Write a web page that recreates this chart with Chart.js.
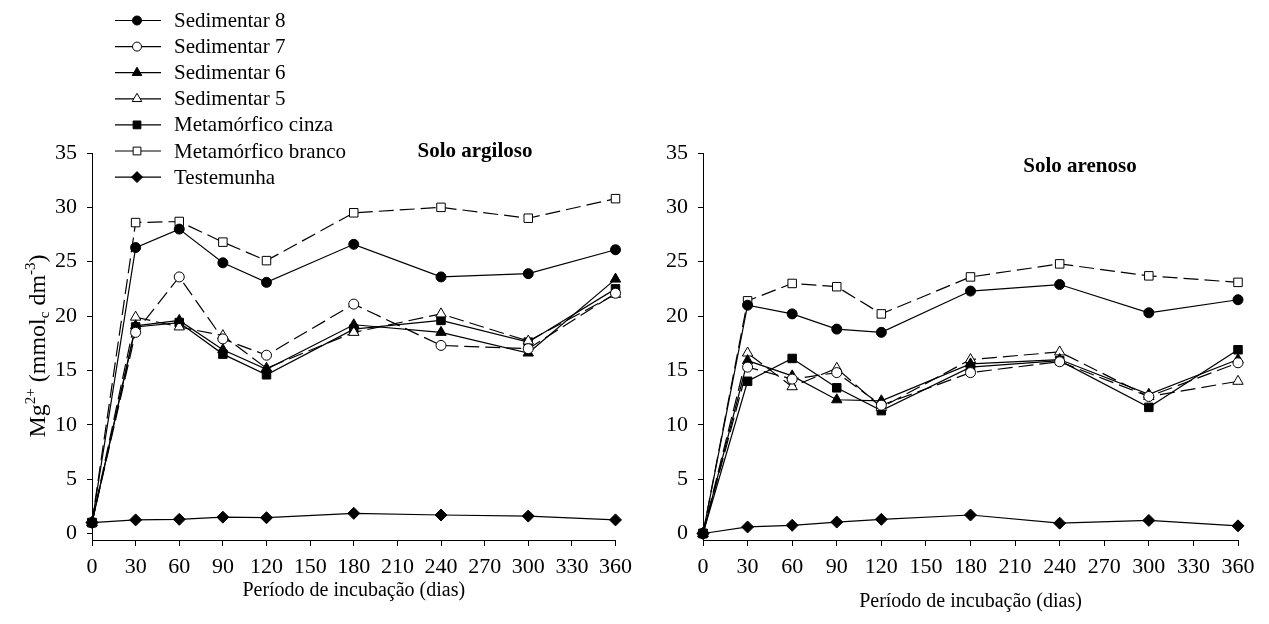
<!DOCTYPE html>
<html><head><meta charset="utf-8">
<script src="https://cdn.jsdelivr.net/npm/chart.js@4/dist/chart.umd.min.js"></script>
<style>
body{margin:0;background:#fff;width:1269px;height:624px;overflow:hidden;position:relative}
#c1{position:absolute;left:0;top:0}
#c2{position:absolute;left:640px;top:0}
</style></head><body>
<canvas id="c1" width="640" height="624"></canvas>
<canvas id="c2" width="629" height="624"></canvas>
<script>
const days = [0, 30, 60, 90, 120, 180, 240, 300, 360];
const xTicks = [0, 30, 60, 90, 120, 150, 180, 210, 240, 270, 300, 330, 360];
const yTicks = [0, 5, 10, 15, 20, 25, 30, 35];
const seriesNames = ['Sedimentar 8', 'Sedimentar 7', 'Sedimentar 6', 'Sedimentar 5', 'Metamórfico cinza', 'Metamórfico branco', 'Testemunha'];
const xTitle = 'Período de incubação (dias)';
const titleLeft = 'Solo argiloso';
const titleRight = 'Solo arenoso';

// Solo argiloso
const argSed8  = [1.0, 26.3, 28.0, 24.9, 23.1, 26.6, 23.6, 23.9, 26.1];
const argSed7  = [1.0, 18.5, 23.6, 17.9, 16.4, 21.1, 17.3, 17.0, 22.1];
const argSed6  = [1.0, 19.1, 19.6, 16.9, 15.1, 19.2, 18.5, 16.6, 23.4];
const argSed5  = [1.0, 19.9, 19.0, 18.2, 15.2, 18.5, 20.2, 17.7, 22.0];
const argMetC  = [1.0, 19.0, 19.4, 16.5, 14.6, 18.8, 19.6, 17.6, 22.5];
const argMetB  = [1.0, 28.6, 28.7, 26.8, 25.1, 29.5, 30.0, 29.0, 30.8];
const argTest  = [1.0, 1.25, 1.3, 1.5, 1.45, 1.85, 1.7, 1.6, 1.25];

// Solo arenoso
const areSed8  = [0.0, 21.0, 20.2, 18.8, 18.5, 22.3, 22.9, 20.3, 21.5];
const areSed7  = [0.0, 15.3, 14.2, 14.8, 11.8, 14.8, 15.8, 12.6, 15.7];
const areSed6  = [0.0, 15.9, 14.5, 12.3, 12.2, 15.6, 16.0, 12.8, 16.0];
const areSed5  = [0.0, 16.6, 13.5, 15.2, 11.6, 16.0, 16.7, 12.6, 14.0];
const areMetC  = [0.0, 14.0, 16.1, 13.4, 11.3, 15.3, 15.9, 11.6, 16.9];
const areMetB  = [0.0, 21.4, 23.0, 22.7, 20.2, 23.6, 24.8, 23.7, 23.1];
const areTest  = [0.0, 0.6, 0.75, 1.05, 1.3, 1.7, 0.95, 1.2, 0.7];

const FONT = '"Liberation Serif","Times New Roman",serif';
const styles = [
  {pointStyle:'circle',   radius:5,   fill:'#000', dash:[]},
  {pointStyle:'circle',   radius:5,   fill:'#fff', dash:[15,6]},
  {pointStyle:'triangle', radius:6,   fill:'#000', dash:[]},
  {pointStyle:'triangle', radius:6,   fill:'#fff', dash:[15,6]},
  {pointStyle:'rect',     radius:6,   fill:'#000', dash:[]},
  {pointStyle:'rect',     radius:6,   fill:'#fff', dash:[15,6]},
  {pointStyle:'rectRot',  radius:6,   fill:'#000', dash:[]}
];

function buildDatasets(arrs) {
  return arrs.map((vals, i) => ({
    label: seriesNames[i],
    data: days.map((d, j) => ({x: d, y: vals[j]})),
    borderColor: '#000',
    borderWidth: 1.2,
    borderDash: styles[i].dash,
    pointStyle: styles[i].pointStyle,
    pointRadius: styles[i].radius,
    pointBackgroundColor: styles[i].fill,
    pointBorderColor: '#000',
    pointBorderWidth: 1,
    tension: 0,
    fill: false,
    clip: false
  }));
}

const textPlugin = {
  id: 'texts',
  afterDraw(chart, args, opts) {
    const ctx = chart.ctx;
    ctx.save();
    ctx.fillStyle = '#000';
    ctx.font = 'bold 21px ' + FONT;
    ctx.textAlign = 'center';
    ctx.textBaseline = 'middle';
    ctx.fillText(opts.title, opts.tx, opts.ty);
    if (opts.legend) {
      ctx.textAlign = 'left';
      ctx.font = '21px ' + FONT;
      seriesNames.forEach((name, i) => {
        const y = 20.5 + i * 26.1;
        ctx.strokeStyle = '#000';
        ctx.lineWidth = 1.2;
        ctx.setLineDash([]);
        ctx.beginPath(); ctx.moveTo(115, y); ctx.lineTo(161, y); ctx.stroke();
        ctx.fillStyle = styles[i].fill;
        ctx.lineWidth = 1;
        Chart.helpers.drawPoint(ctx, {pointStyle: styles[i].pointStyle, radius: styles[i].radius - 0.5, rotation: 0, borderWidth: 1}, 137, y);
        ctx.fillStyle = '#000';
        ctx.fillText(name, 174, y + 1);
      });
      const parts = [
        {t:'Mg', s:24, dy:0}, {t:'2+', s:15, dy:-10}, {t:' (mmol', s:24, dy:0},
        {t:'c', s:15, dy:4}, {t:' dm', s:24, dy:0}, {t:'-3', s:15, dy:-10}, {t:')', s:24, dy:0}
      ];
      let total = 0;
      parts.forEach(p => { ctx.font = p.s + 'px ' + FONT; p.w = ctx.measureText(p.t).width; total += p.w; });
      ctx.translate(45, 346);
      ctx.rotate(-Math.PI / 2);
      ctx.textBaseline = 'alphabetic';
      let x = -total / 2;
      parts.forEach(p => { ctx.font = p.s + 'px ' + FONT; ctx.fillText(p.t, x, p.dy); x += p.w; });
    }
    ctx.restore();
  }
};

function makeChart(id, arrs, o) {
  return new Chart(document.getElementById(id), {
    type: 'line',
    data: { datasets: buildDatasets(arrs) },
    plugins: [textPlugin],
    options: {
      responsive: false,
      animation: false,
      devicePixelRatio: 1,
      layout: { padding: { top: 153, left: 0, right: o.padRight, bottom: 0 } },
      plugins: {
        legend: { display: false },
        tooltip: { enabled: false },
        texts: { title: o.title, tx: o.tx, ty: o.ty, legend: o.legend }
      },
      scales: {
        x: {
          type: 'linear', min: 0, max: 360,
          afterBuildTicks: s => { s.ticks = xTicks.map(v => ({value: v})); },
          afterFit: s => { s.height = 84; },
          ticks: { color: '#000', font: { size: 22, family: FONT }, maxRotation: 0, autoSkip: false, padding: 8 },
          grid: { drawOnChartArea: false, drawTicks: true, tickLength: 6, color: '#000' },
          border: { display: true, color: '#000', width: 1 },
          title: { display: true, text: xTitle, color: '#000', font: { size: 20, family: FONT }, padding: { top: 0, bottom: o.titlePadBottom } }
        },
        y: {
          type: 'linear', min: -0.6, max: 35,
          afterBuildTicks: s => { s.ticks = yTicks.map(v => ({value: v})); },
          afterFit: s => { s.width = o.yWidth; },
          ticks: { color: '#000', font: { size: 22, family: FONT }, padding: 10 },
          grid: { drawOnChartArea: false, drawTicks: true, tickLength: 5, color: '#000' },
          border: { display: true, color: '#000', width: 1 }
        }
      }
    }
  });
}

makeChart('c1', [argSed8, argSed7, argSed6, argSed5, argMetC, argMetB, argTest],
  { padRight: 20, yWidth: 92, titlePadBottom: 21, title: titleLeft, tx: 475, ty: 152, legend: true });
makeChart('c2', [areSed8, areSed7, areSed6, areSed5, areMetC, areMetB, areTest],
  { padRight: 31, yWidth: 63, titlePadBottom: 10, title: titleRight, tx: 440, ty: 167, legend: false });
</script>
</body></html>
